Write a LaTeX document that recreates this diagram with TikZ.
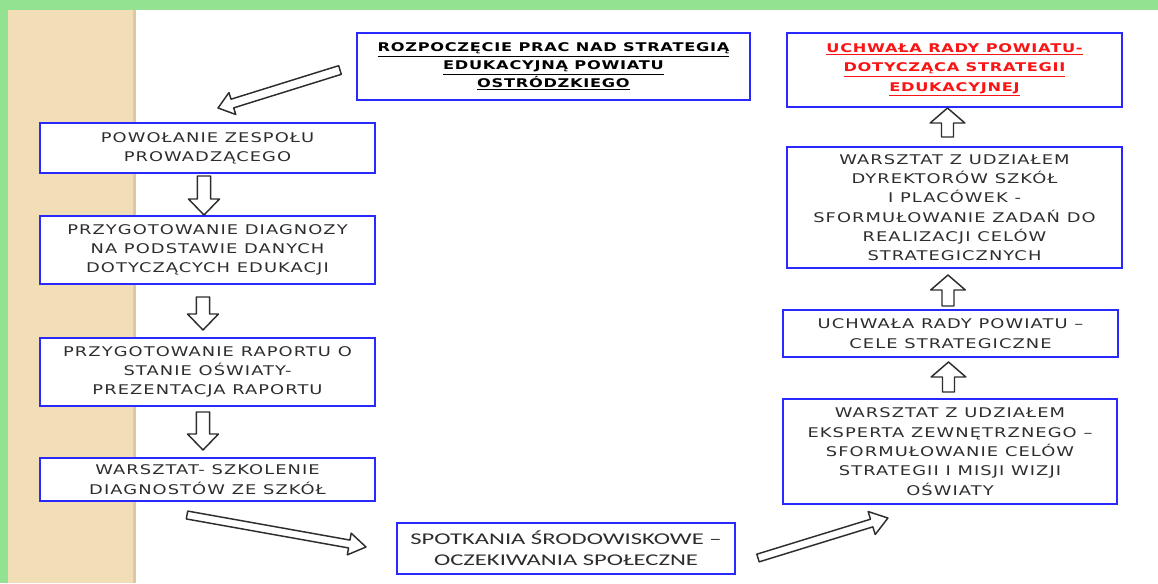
\documentclass[tikz,border=0pt]{standalone}
\usepackage{fontspec}
\usetikzlibrary{calc}
\newfontfamily\boxfont[FakeStretch=1.34,LetterSpace=8]{DejaVu Sans}
\newfontfamily\titlefont[FakeStretch=1.35,LetterSpace=6]{DejaVu Sans}
\newfontfamily\calfont[FakeStretch=1.5]{Carlito}
\definecolor{bgreen}{RGB}{146,226,146}
\definecolor{tanstrip}{RGB}{242,222,182}
\definecolor{tanedge}{RGB}{222,200,160}
\definecolor{boxblue}{RGB}{40,40,255}
\definecolor{txt}{RGB}{45,45,45}
\definecolor{arrowgray}{RGB}{45,45,45}
\definecolor{titlered}{RGB}{250,20,20}
\tikzset{
  flowbox/.style={draw=boxblue, line width=1.4pt, fill=white, inner sep=0pt, align=center,
    text=txt, font=\boxfont\fontsize{10}{14.5}\selectfont},
  titlebox/.style={flowbox, font=\titlefont\bfseries\fontsize{9}{13.2}\selectfont, text=black},
  blockarr/.style={draw=arrowgray, line width=1.1pt, fill=white, line join=round},
}
\newcommand\blockarrow[5]{%
  \path let \p1=(#1), \p2=(#2) in \pgfextra{%
    \pgfmathsetmacro\baang{atan2(\y2-\y1,\x2-\x1)}%
    \pgfmathsetmacro\balen{veclen(\x2-\x1,\y2-\y1)}%
    \xdef\baang{\baang}\xdef\balen{\balen}};
  \begin{scope}[shift={(#1)},rotate=\baang]
    \draw[blockarr] (0pt,-#3) -- ({\balen pt-#5},-#3) -- ({\balen pt-#5},-#4) -- (\balen pt,0pt)
      -- ({\balen pt-#5},#4) -- ({\balen pt-#5},#3) -- (0pt,#3) -- cycle;
  \end{scope}}
\begin{document}
\begin{tikzpicture}[x=0.75pt,y=-0.75pt]
\useasboundingbox (0,0) rectangle (1158,583);
% background
\fill[white] (0,0) rectangle (1158,583);
\fill[bgreen] (0,0) rectangle (1158,10);
\fill[bgreen] (0,0) rectangle (8,583);
\fill[tanstrip] (8,10) rectangle (136,583);
\fill[tanedge] (133,10) rectangle (136,583);
% boxes
\node[titlebox, minimum width=294.75pt, minimum height=50.25pt] (start) at (553.5,66.5)
  {\underline{ROZPOCZĘCIE PRAC NAD STRATEGIĄ}\\\underline{EDUKACYJNĄ POWIATU}\\\underline{OSTRÓDZKIEGO}};
\node[titlebox, text=titlered, font=\titlefont\bfseries\fontsize{9}{14.5}\selectfont, minimum width=251.25pt, minimum height=55.5pt] (final) at (954.5,70)
  {\underline{UCHWAŁA RADY POWIATU-}\\\underline{DOTYCZĄCA STRATEGII}\\\underline{EDUKACYJNEJ}};
\node[flowbox, minimum width=251.25pt, minimum height=37.5pt] (team) at (207.5,148)
  {POWOŁANIE ZESPOŁU\\PROWADZĄCEGO};
\node[flowbox, minimum width=251.25pt, minimum height=51pt] (diag) at (207.5,250)
  {PRZYGOTOWANIE DIAGNOZY\\NA PODSTAWIE DANYCH\\DOTYCZĄCYCH EDUKACJI};
\node[flowbox, minimum width=251.25pt, minimum height=51pt] (report) at (207.5,372)
  {PRZYGOTOWANIE RAPORTU O\\STANIE OŚWIATY-\\PREZENTACJA RAPORTU};
\node[flowbox, minimum width=251.25pt, minimum height=32.25pt] (train) at (207.5,479.5)
  {WARSZTAT- SZKOLENIE\\DIAGNOSTÓW ZE SZKÓŁ};
\node[flowbox, font=\calfont\fontsize{12.3}{15.5}\selectfont, minimum width=253.5pt, minimum height=38.25pt] (meet) at (566,548.5)
  {SPOTKANIA ŚRODOWISKOWE –\\OCZEKIWANIA SPOŁECZNE};
\node[flowbox, minimum width=250.5pt, minimum height=78.75pt] (expert) at (950,451.5)
  {WARSZTAT Z UDZIAŁEM\\EKSPERTA ZEWNĘTRZNEGO –\\SFORMUŁOWANIE CELÓW\\STRATEGII I MISJI WIZJI\\OŚWIATY};
\node[flowbox, minimum width=251.25pt, minimum height=35.25pt] (goals) at (950.5,333.5)
  {UCHWAŁA RADY POWIATU –\\CELE STRATEGICZNE};
\node[flowbox, minimum width=251.25pt, minimum height=90.75pt] (heads) at (954.5,207.5)
  {WARSZTAT Z UDZIAŁEM\\DYREKTORÓW SZKÓŁ\\I PLACÓWEK -\\SFORMUŁOWANIE ZADAŃ DO\\REALIZACJI CELÓW\\STRATEGICZNYCH};
% arrow end points
\coordinate (aS1) at (340,70);   \coordinate (aE1) at (218,108);
\coordinate (dS1) at (204,176);  \coordinate (dE1) at (204,215);
\coordinate (dS2) at (203,297);  \coordinate (dE2) at (203,330);
\coordinate (dS3) at (203,412);  \coordinate (dE3) at (203,450);
\coordinate (bS1) at (187,515);  \coordinate (bE1) at (366,547);
\coordinate (bS2) at (758,558);  \coordinate (bE2) at (888,518);
\coordinate (uS1) at (948.5,392); \coordinate (uE1) at (948.5,362);
\coordinate (uS2) at (948,306);  \coordinate (uE2) at (948,275);
\coordinate (uS3) at (947.5,137); \coordinate (uE3) at (947.5,108);
% arrows
\blockarrow{aS1}{aE1}{3.4pt}{8.6pt}{11.25pt}
\blockarrow{dS1}{dE1}{4.9pt}{11.6pt}{12pt}
\blockarrow{dS2}{dE2}{4.9pt}{11.6pt}{12pt}
\blockarrow{dS3}{dE3}{4.9pt}{11.6pt}{12pt}
\blockarrow{bS1}{bE1}{3pt}{8.25pt}{12.75pt}
\blockarrow{bS2}{bE2}{3pt}{9pt}{12.75pt}
\blockarrow{uS1}{uE1}{4.5pt}{13pt}{11.25pt}
\blockarrow{uS2}{uE2}{4.5pt}{13pt}{11.25pt}
\blockarrow{uS3}{uE3}{4.5pt}{13pt}{11.25pt}
\end{tikzpicture}
\end{document}
